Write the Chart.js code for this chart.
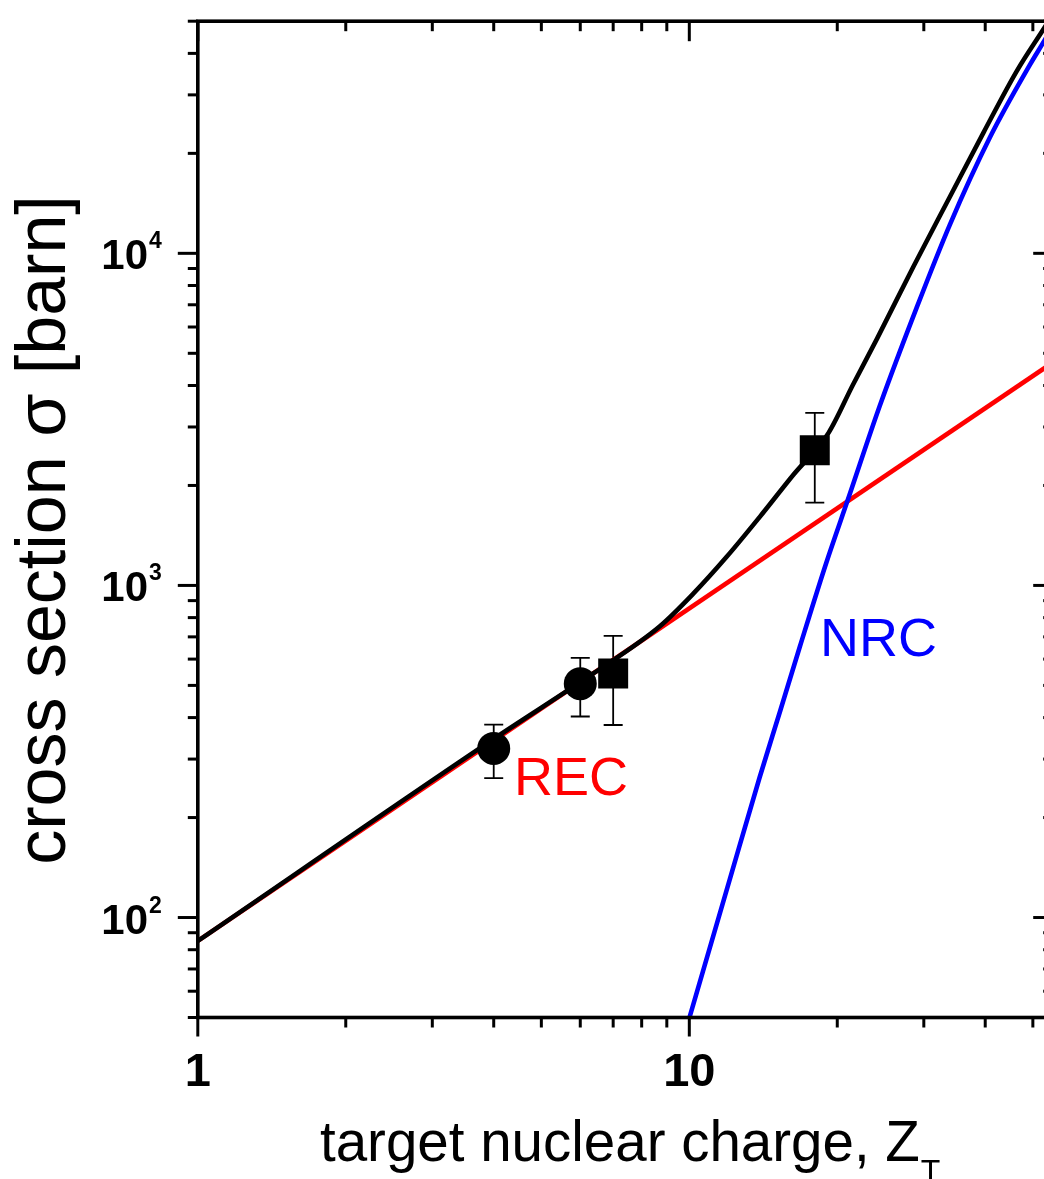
<!DOCTYPE html>
<html>
<head>
<meta charset="utf-8">
<script src="https://cdn.jsdelivr.net/npm/chart.js@4"></script>
<style>
  html, body { margin: 0; padding: 0; background: #fff; overflow: hidden; }
  canvas { display: block; }
</style>
</head>
<body>
<canvas id="sigmaChart" width="1080" height="1179"></canvas>
<script>
// electron capture cross sections vs. target nuclear charge (log-log)

// REC: radiative electron capture
const zRec = [1, 55];
const sigmaRec = [85, 4700];

// NRC: non-radiative capture
const zNrc = [10, 12.1, 13.9, 15.3, 16.8, 19.0, 21.1, 24.4, 29.0, 33.9, 40.9, 49.3, 52.7, 55];
const sigmaNrc = [49.8, 131, 264, 418, 657, 1171, 1842, 3468, 6850, 12210, 22360, 36940, 43560, 48560];

// total = REC + NRC
const zTotal = [1, 4, 6.4, 8.7, 10.2, 11.9, 13.9, 16.3, 19.2, 21.5, 24.1, 28.6, 33.9, 39.7, 46.4, 52.7, 55];
const sigmaTotal = [85, 345, 545, 752, 946, 1217, 1606, 2158, 2880, 4006, 5537, 9146, 14800, 23140, 35440, 47630, 52620];

// measured points with error bars
const zCircle = [4, 6];
const sigmaCircle = [323, 506];
const circleLo = [263, 403];
const circleHi = [381, 605];

const zSquare = [7, 18];
const sigmaSquare = [543, 2551];
const squareLo = [380, 1776];
const squareHi = [705, 3306];

// axes
const xMin = 1, xMax = 55;
const yMin = 50, yMax = 50000;
const xMajor = [1, 10];
const xTickLabels = ["1", "10"];
const yMajor = [100, 1000, 10000];
const yTickExponents = ["2", "3", "4"];

const FONT = '"Liberation Sans", Arial, Helvetica, sans-serif';

function pts(xs, ys) { return xs.map((x, i) => ({ x: x, y: ys[i] })); }

// 2..9 x 10^n inside [min, max], skipping the decades
function minorTicks(min, max) {
  const out = [];
  for (let e = Math.floor(Math.log10(min)); e <= Math.ceil(Math.log10(max)); e++) {
    for (let m = 2; m <= 9; m++) {
      const v = m * Math.pow(10, e);
      if (v >= min && v <= max) out.push(v);
    }
  }
  return out;
}

const errorBars = {
  id: "errorBars",
  beforeDatasetsDraw(chart) {
    const { ctx, scales: { x, y } } = chart;
    const sets = [[zCircle, circleLo, circleHi], [zSquare, squareLo, squareHi]];
    ctx.save();
    ctx.strokeStyle = "#000";
    ctx.lineWidth = 1.8;
    for (const [zs, lo, hi] of sets) {
      zs.forEach((z, i) => {
        const px = x.getPixelForValue(z);
        const yl = y.getPixelForValue(lo[i]);
        const yh = y.getPixelForValue(hi[i]);
        ctx.beginPath();
        ctx.moveTo(px, yl); ctx.lineTo(px, yh);
        ctx.moveTo(px - 9.5, yl); ctx.lineTo(px + 9.5, yl);
        ctx.moveTo(px - 9.5, yh); ctx.lineTo(px + 9.5, yh);
        ctx.stroke();
      });
    }
    ctx.restore();
  }
};

const frame = {
  id: "frame",
  afterDraw(chart) {
    const { ctx, chartArea: a, scales: { x, y } } = chart;
    ctx.save();
    ctx.strokeStyle = "#000";
    ctx.fillStyle = "#000";
    ctx.lineWidth = 3.6;
    ctx.strokeRect(a.left, a.top, a.right - a.left, a.bottom - a.top);

    const line = (x1, y1, x2, y2) => { ctx.beginPath(); ctx.moveTo(x1, y1); ctx.lineTo(x2, y2); ctx.stroke(); };

    // x ticks: outward at the bottom, inward at the top
    ctx.lineWidth = 3;
    for (const v of xMajor) {
      const px = x.getPixelForValue(v);
      line(px, a.bottom, px, a.bottom + 19);
      line(px, a.top, px, a.top + 20);
    }
    for (const v of minorTicks(xMin, xMax)) {
      const px = x.getPixelForValue(v);
      line(px, a.bottom, px, a.bottom + 10);
      line(px, a.top, px, a.top + 10);
    }
    // y ticks: outward on the left, inward on the right
    for (const v of yMajor) {
      const py = y.getPixelForValue(v);
      line(a.left, py, a.left - 20, py);
      line(a.right, py, a.right - 20, py);
    }
    for (const v of minorTicks(yMin, yMax)) {
      const py = y.getPixelForValue(v);
      line(a.left, py, a.left - 10, py);
      line(a.right, py, a.right - 10, py);
    }

    // tick labels
    ctx.textBaseline = "alphabetic";
    ctx.font = "bold 47px " + FONT;
    ctx.textAlign = "center";
    xMajor.forEach((v, i) => ctx.fillText(xTickLabels[i], x.getPixelForValue(v), 1086));

    yMajor.forEach((v, i) => {
      const py = y.getPixelForValue(v);
      ctx.font = "bold 42px " + FONT;
      ctx.textAlign = "right";
      ctx.fillText("10", 148, py + 16);
      ctx.font = "bold 23px " + FONT;
      ctx.textAlign = "left";
      ctx.fillText(yTickExponents[i], 149, py - 5);
    });

    // axis titles
    ctx.font = "56.5px " + FONT;
    ctx.textAlign = "left";
    const x0 = 320;
    ctx.fillText("target nuclear charge, Z", x0, 1161);
    const zEnd = x0 + ctx.measureText("target nuclear charge, Z").width;
    ctx.font = "32px " + FONT;
    ctx.fillText("T", zEnd + 1, 1182);

    ctx.save();
    ctx.translate(65, 530);
    ctx.rotate(-Math.PI / 2);
    ctx.font = "70px " + FONT;
    ctx.textAlign = "center";
    ctx.fillText("cross section \u03c3 [barn]", 0, 0);
    ctx.restore();

    // curve labels
    ctx.font = "54px " + FONT;
    ctx.textAlign = "left";
    ctx.fillStyle = "#ff0000";
    ctx.fillText("REC", 514, 795);
    ctx.fillStyle = "#0000ff";
    ctx.fillText("NRC", 820, 656);
    ctx.restore();
  }
};

const W = 1080, H = 1179;
const area = { left: 197.8, right: 1053.2, top: 13, bottom: 1017.5 };

new Chart(document.getElementById("sigmaChart").getContext("2d"), {
  type: "scatter",
  data: {
    datasets: [
      { label: "circles", data: pts(zCircle, sigmaCircle), pointStyle: "circle", pointRadius: 16.5,
        backgroundColor: "#000", borderWidth: 0, showLine: false },
      { label: "squares", data: pts(zSquare, sigmaSquare), pointStyle: "rect", pointRadius: 21.2,
        backgroundColor: "#000", borderWidth: 0, showLine: false },
      { label: "total", data: pts(zTotal, sigmaTotal), showLine: true, borderColor: "#000",
        borderWidth: 4.6, pointRadius: 0, cubicInterpolationMode: "monotone" },
      { label: "NRC", data: pts(zNrc, sigmaNrc), showLine: true, borderColor: "#0000ff",
        borderWidth: 4.6, pointRadius: 0, cubicInterpolationMode: "monotone" },
      { label: "REC", data: pts(zRec, sigmaRec), showLine: true, borderColor: "#ff0000",
        borderWidth: 4.6, pointRadius: 0 }
    ]
  },
  options: {
    responsive: false,
    animation: false,
    events: [],
    layout: { padding: { left: area.left, right: W - area.right, top: area.top, bottom: H - area.bottom } },
    plugins: { legend: { display: false }, tooltip: { enabled: false } },
    scales: {
      x: { type: "logarithmic", min: xMin, max: xMax, display: false },
      y: { type: "logarithmic", min: yMin, max: yMax, display: false }
    }
  },
  plugins: [errorBars, frame]
});
</script>
</body>
</html>
